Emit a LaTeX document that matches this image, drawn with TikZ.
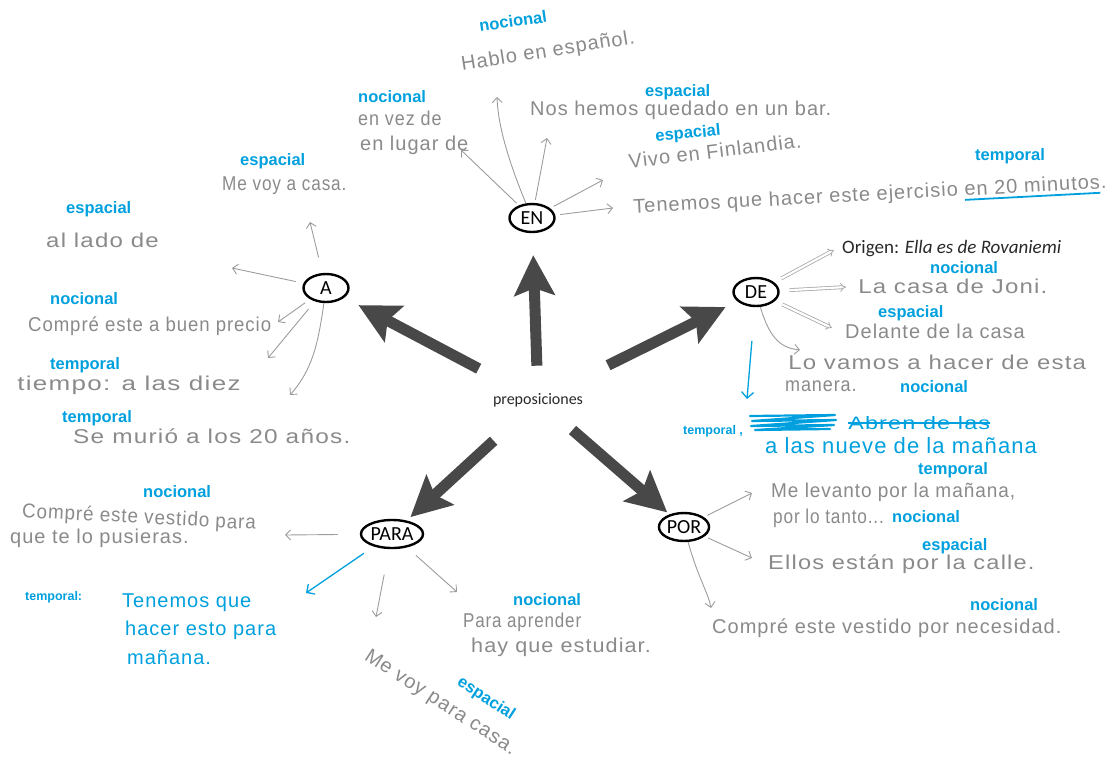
\documentclass[tikz,border=0pt]{standalone}
\usepackage{fontspec}
\usetikzlibrary{shapes.geometric,arrows.meta,calc}
\setmainfont{Liberation Sans}
\newfontfamily\handfont[LetterSpace=5]{Liberation Sans}
\newfontfamily\calfont{Carlito}
\definecolor{handgray}{RGB}{138,138,138}
\definecolor{tagcyan}{RGB}{0,160,222}
\definecolor{bigdark}{RGB}{72,72,72}
\definecolor{inkblack}{RGB}{40,40,40}

% cyan underline under a piece of text
\newlength\ulw
\newcommand\cyanul[1]{\settowidth\ulw{#1}\rlap{\textcolor{tagcyan}{\rule[-5pt]{\ulw}{1.8pt}}}#1}

\tikzset{
  hw/.style={font=\handfont\fontsize{20}{23}\selectfont, text=handgray, anchor=west, inner sep=0pt},
  tag/.style={font=\fontsize{16.5}{18}\selectfont\bfseries, text=tagcyan, anchor=west, inner sep=0pt},
  smalltag/.style={font=\fontsize{12.5}{14}\selectfont\bfseries, text=tagcyan, anchor=west, inner sep=0pt},
  cyanhand/.style={font=\handfont\fontsize{20}{23}\selectfont, text=tagcyan, anchor=west, inner sep=0pt},
  prepnode/.style={ellipse, draw=black, line width=2.4pt, font=\calfont\fontsize{20}{22}\selectfont,
    inner sep=0.5pt, minimum width=45pt, minimum height=28pt},
  thinarrow/.style={draw=handgray!85, line width=0.9pt, -{Straight Barb[length=5pt,width=10pt]}},
  cyanarrow/.style={draw=tagcyan, line width=1.3pt, -{Straight Barb[length=6pt,width=12pt]}},
  dblarrow/.style={draw=handgray!75, double=white, double distance=2.2pt, line width=0.8pt, -{Implies}},
  bigarrow/.style={draw=bigdark, line width=11pt, -{Stealth[length=40pt,width=40pt,inset=7pt]}},
}

\begin{document}
\begin{tikzpicture}[x=1pt,y=-1pt]
\useasboundingbox (0,0) rectangle (1115,765);

% centre and the five prepositions
\node[font=\calfont\fontsize{16}{18}\selectfont, text=inkblack] (prep) at (538,400) {preposiciones};
\node[prepnode] (en)   at (532,218) {EN};
\node[prepnode] (a)    at (326,288) {A};
\node[prepnode] (de)   at (756,292) {DE};
\node[prepnode] (para) at (392,534) {PARA};
\node[prepnode] (por)  at (684,527) {POR};

% thick arrows out of the centre
\draw[bigarrow, shorten <=24pt, shorten >=22pt] (prep) -- (en);
\draw[bigarrow, shorten <=45pt, shorten >=16pt] (prep) -- (a);
\draw[bigarrow, shorten <=55pt, shorten >=13pt] (prep) -- (de);
\draw[bigarrow, shorten <=45pt, shorten >=5pt] (prep) -- (para);
\draw[bigarrow, shorten <=30pt, shorten >=3pt] (prep) -- (por);

% ---------- EN ----------
\node[tag, anchor=center, rotate=8] (en1t) at (513,21) {nocional};
\node[hw, anchor=center, rotate=9] (en1) at (548,52) {Hablo en español.};
\node[tag] (en2t) at (358,97) {nocional};
\node[hw, xscale=0.9] (en2a) at (358,118) {en vez de};
\node[hw] (en2b) at (360,145) {en lugar de};
\node[tag] (en3t) at (645,92) {espacial};
\node[hw] (en3) at (530,110) {Nos hemos quedado en un bar.};
\node[tag, anchor=center, rotate=5] (en4t) at (688,134) {espacial};
\node[hw, anchor=center, rotate=7] (en4) at (715,151) {Vivo en Finlandia.};
\node[tag] (en5t) at (975,156) {temporal};
\node[hw, anchor=center, rotate=3] (en5) at (870,196) {Tenemos que hacer este ejercisio \cyanul{en 20 minutos}.};

\coordinate (en2e) at (461,150);
\coordinate (en1e) at (497,97);
\coordinate (en3e) at (547,138);
\coordinate (en4e) at (603,180);
\coordinate (en5e) at (613,208);
\draw[thinarrow, shorten <=3pt] (en) -- (en2e);
\draw[thinarrow] (en) .. controls (508,160) and (498,125) .. (en1e);
\draw[thinarrow, shorten <=3pt] (en) -- (en3e);
\draw[thinarrow, shorten <=4pt] (en) -- (en4e);
\draw[thinarrow, shorten <=5pt] (en) -- (en5e);

% ---------- A ----------
\node[tag] (a1t) at (240,161) {espacial};
\node[hw, xscale=0.86] (a1) at (222,186) {Me voy a casa.};
\node[tag] (a2t) at (66,209) {espacial};
\node[hw, xscale=1.2] (a2) at (46,240) {al lado de};
\node[tag] (a3t) at (50,299) {nocional};
\node[hw, xscale=0.93] (a3) at (28,326) {Compré este a buen precio};
\node[tag] (a4t) at (50,365) {temporal};
\node[hw, xscale=1.3] (a4) at (17,385) {tiempo: a las diez};
\node[tag] (a5t) at (62,418) {temporal};
\node[hw, xscale=1.22] (a5) at (73,436) {Se murió a los 20 años.};

\coordinate (a1e) at (310,222);
\coordinate (a2e) at (232,268);
\coordinate (a3e) at (278,322);
\coordinate (a4e) at (268,358);
\coordinate (a5e) at (290,395);
\draw[thinarrow, shorten <=16pt] (a) -- (a1e);
\draw[thinarrow, shorten <=8pt] (a) -- (a2e);
\draw[thinarrow, shorten <=6pt] (a) -- (a3e);
\draw[thinarrow, shorten <=10pt] (a) -- (a4e);
\draw[thinarrow] (a) .. controls (318,345) and (312,370) .. (a5e);

% ---------- DE ----------
\node[font=\calfont\fontsize{19}{21}\selectfont, text=inkblack, anchor=west, inner sep=0pt] (de1) at (842,249) {Origen: \textit{Ella es de Rovaniemi}};
\node[tag] (de2t) at (930,268) {nocional};
\node[hw, xscale=1.2] (de2) at (858,286) {La casa de Joni.};
\node[tag] (de3t) at (878,313) {espacial};
\node[hw] (de3) at (845,331) {Delante de la casa};
\node[hw, xscale=1.2] (de4a) at (788,362) {Lo vamos a hacer de esta};
\node[hw, xscale=0.9] (de4b) at (785,386) {manera.};
\node[tag] (de4t) at (900,387) {nocional};

\coordinate (de1e) at (834,250);
\coordinate (de2e) at (846,287);
\coordinate (de3e) at (832,328);
\coordinate (de4e) at (800,350);
\coordinate (de5e) at (747,399);
\draw[dblarrow, shorten <=8pt] (de) -- (de1e);
\draw[dblarrow, shorten <=10pt] (de) -- (de2e);
\draw[dblarrow, shorten <=8pt] (de) -- (de3e);
\draw[thinarrow] (de) .. controls (770,340) and (782,348) .. (de4e);
\draw[cyanarrow, shorten <=34pt] (de) -- (de5e);

% corrected example
\node[smalltag] (de5t) at (683,431) {temporal ,};
\draw[tagcyan, line width=2.2pt, line cap=round, line join=round]
  (750,416) -- (835,415) -- (752,421) -- (836,420) -- (751,426) -- (834,425) -- (755,430) -- (830,429);
\node[cyanhand, font=\handfont\fontsize{18}{20}\selectfont, xscale=1.3] (de5x) at (848,423) {Abren de las};
\draw[tagcyan, line width=1.6pt] (de5x.west) -- (de5x.east);
\node[cyanhand, font=\handfont\fontsize{22}{25}\selectfont] (de5) at (765,446) {a las nueve de la mañana};

% ---------- POR ----------
\node[tag] (por1t) at (918,470) {temporal};
\node[hw, xscale=0.95] (por1a) at (771,492) {Me levanto por la mañana,};
\node[hw, xscale=0.86] (por1b) at (773,518) {por lo tanto...};
\node[tag] (por1c) at (892,517) {nocional};
\node[tag] (por2t) at (922,546) {espacial};
\node[hw, xscale=1.18] (por2) at (768,564) {Ellos están por la calle.};
\node[tag] (por3t) at (970,605) {nocional};
\node[hw] (por3) at (712,628) {Compré este vestido por necesidad.};

\coordinate (por1e) at (752,493);
\coordinate (por2e) at (752,558);
\coordinate (por3e) at (711,608);
\draw[thinarrow, shorten <=4pt] (por) -- (por1e);
\draw[thinarrow, shorten <=4pt] (por) -- (por2e);
\draw[thinarrow] (por) .. controls (698,578) and (708,592) .. (por3e);

% ---------- PARA ----------
\node[tag] (pa1t) at (143,492) {nocional};
\node[hw, rotate=-3, xscale=0.94] (pa1a) at (22,512) {Compré este vestido para};
\node[hw] (pa1b) at (10,538) {que te lo pusieras.};
\node[smalltag] (pa2t) at (25,597) {temporal:};
\node[cyanhand] (pa2a) at (122,603) {Tenemos que};
\node[cyanhand] (pa2b) at (125,630) {hacer esto para};
\node[cyanhand] (pa2c) at (127,657) {mañana.};
\node[tag] (pa4t) at (513,600) {nocional};
\node[hw, xscale=0.85] (pa4a) at (463,622) {Para aprender};
\node[hw, xscale=1.08] (pa4b) at (471,647) {hay que estudiar.};
\node[hw, rotate=-33] (pa3) at (366,655) {Me voy para casa.};
\node[tag, anchor=center, rotate=-33] (pa3t) at (486,699) {espacial};

\coordinate (pa1e) at (285,535);
\coordinate (pa2e) at (306,593);
\coordinate (pa3e) at (376,617);
\coordinate (pa4e) at (457,592);
\draw[thinarrow, shorten <=22pt] (para) -- (pa1e);
\draw[cyanarrow, shorten <=12pt] (para) -- (pa2e);
\draw[thinarrow, shorten <=26pt] (para) -- (pa3e);
\draw[thinarrow, shorten <=12pt] (para) -- (pa4e);
\end{tikzpicture}
\end{document}
